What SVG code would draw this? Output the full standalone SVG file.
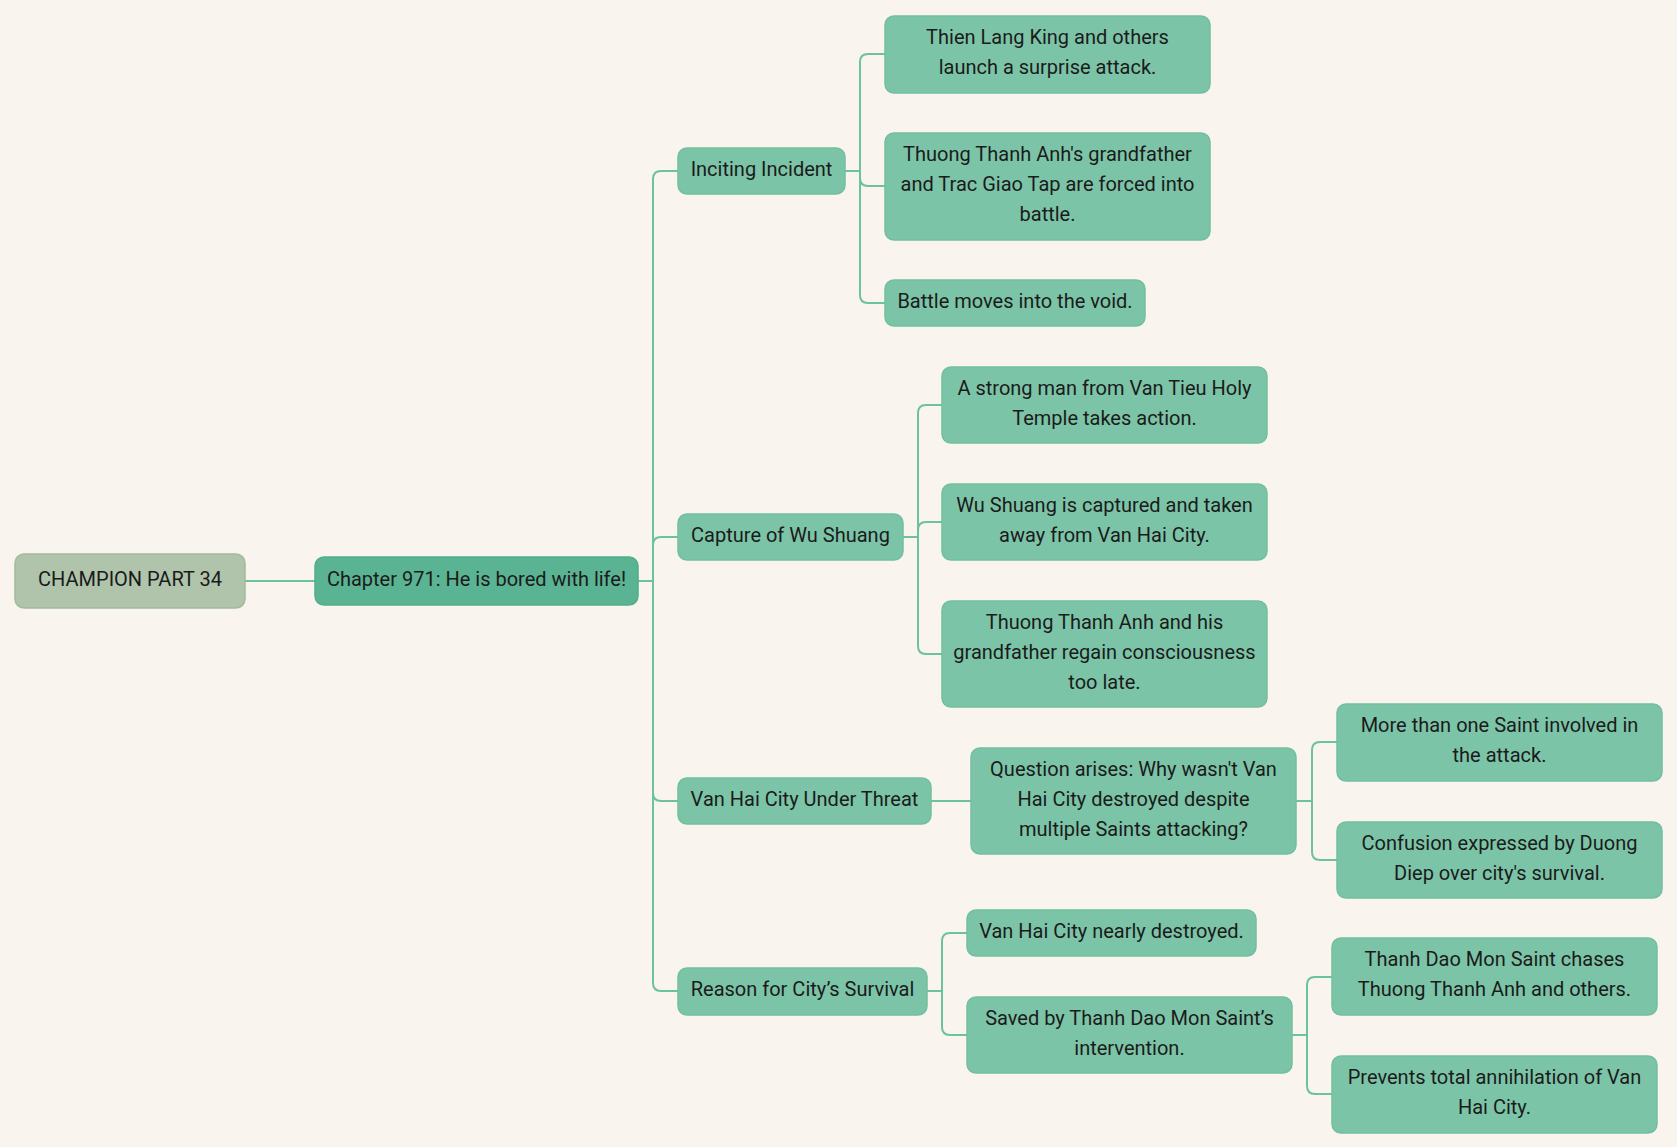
<svg xmlns="http://www.w3.org/2000/svg" width="1677" height="1147" viewBox="0 0 1677 1147">
<style>
.bg{fill:#f9f5ee}
.n rect{fill:#7cc4a8;stroke:#72bf9f;stroke-width:1.5}
.root rect{fill:#afc4aa;stroke:#a3bb9c;stroke-width:1.5}
.ch rect{fill:#5ab393;stroke:#52ad8b;stroke-width:1.5}
text{font-family:Roboto,"Liberation Sans",sans-serif;font-size:20px;fill:#1b1b1b;text-anchor:middle;dominant-baseline:central}
.c path{fill:none;stroke:#6cc19f;stroke-width:2}
</style>
<rect class="bg" x="0" y="0" width="1677" height="1147"/>
<g class="c" id="connectors">
<path d="M245 581H315"/>
<path d="M638 581H653"/>
<path d="M653 581V179Q653 171 661 171H678"/>
<path d="M653 581V545Q653 537 661 537H678"/>
<path d="M653 581V793Q653 801 661 801H678"/>
<path d="M653 581V983Q653 991 661 991H678"/>
<path d="M845 171H860V62Q860 54 868 54H885"/>
<path d="M860 171V178Q860 186 868 186H885"/>
<path d="M860 171V295Q860 303 868 303H885"/>
<path d="M903 537H918V413Q918 405 926 405H942"/>
<path d="M918 537V530Q918 522 926 522H942"/>
<path d="M918 537V646Q918 654 926 654H942"/>
<path d="M931 801H971"/>
<path d="M1296 801H1312V750Q1312 742 1320 742H1337"/>
<path d="M1312 801V852Q1312 860 1320 860H1337"/>
<path d="M927 991H942V941Q942 933 950 933H967"/>
<path d="M942 991V1027Q942 1035 950 1035H967"/>
<path d="M1292 1035H1307V985Q1307 977 1315 977H1332"/>
<path d="M1307 1035V1086Q1307 1094 1315 1094H1332"/>
</g>
<g id="root" class="root"><rect x="15" y="554" width="230" height="54" rx="9"/><text x="130" y="579">CHAMPION PART 34</text></g>
<g id="chapter" class="ch"><rect x="315" y="557" width="323" height="48" rx="9"/><text x="476.5" y="579">Chapter 971: He is bored with life!</text></g>
<g id="inciting" class="n"><rect x="678" y="148" width="167" height="46" rx="9"/><text x="761.5" y="169">Inciting Incident</text></g>
<g id="thien" class="n"><rect x="885" y="16" width="325" height="77" rx="9"/><text x="1047.5" y="37">Thien Lang King and others</text><text x="1047.5" y="67">launch a surprise attack.</text></g>
<g id="thuong1" class="n"><rect x="885" y="133" width="325" height="107" rx="9"/><text x="1047.5" y="154">Thuong Thanh Anh's grandfather</text><text x="1047.5" y="184">and Trac Giao Tap are forced into</text><text x="1047.5" y="214">battle.</text></g>
<g id="battle" class="n"><rect x="885" y="280" width="260" height="46" rx="9"/><text x="1015" y="301">Battle moves into the void.</text></g>
<g id="capture" class="n"><rect x="678" y="514" width="225" height="46" rx="9"/><text x="790.5" y="535">Capture of Wu Shuang</text></g>
<g id="strong" class="n"><rect x="942" y="367" width="325" height="76" rx="9"/><text x="1104.5" y="388">A strong man from Van Tieu Holy</text><text x="1104.5" y="418">Temple takes action.</text></g>
<g id="wu" class="n"><rect x="942" y="484" width="325" height="76" rx="9"/><text x="1104.5" y="505">Wu Shuang is captured and taken</text><text x="1104.5" y="535">away from Van Hai City.</text></g>
<g id="thuong2" class="n"><rect x="942" y="601" width="325" height="106" rx="9"/><text x="1104.5" y="622">Thuong Thanh Anh and his</text><text x="1104.5" y="652">grandfather regain consciousness</text><text x="1104.5" y="682">too late.</text></g>
<g id="vanhai" class="n"><rect x="678" y="778" width="253" height="46" rx="9"/><text x="804.5" y="799">Van Hai City Under Threat</text></g>
<g id="question" class="n"><rect x="971" y="748" width="325" height="106" rx="9"/><text x="1133.5" y="769">Question arises: Why wasn't Van</text><text x="1133.5" y="799">Hai City destroyed despite</text><text x="1133.5" y="829">multiple Saints attacking?</text></g>
<g id="more" class="n"><rect x="1337" y="704" width="325" height="77" rx="9"/><text x="1499.5" y="725">More than one Saint involved in</text><text x="1499.5" y="755">the attack.</text></g>
<g id="confusion" class="n"><rect x="1337" y="822" width="325" height="76" rx="9"/><text x="1499.5" y="843">Confusion expressed by Duong</text><text x="1499.5" y="873">Diep over city's survival.</text></g>
<g id="reason" class="n"><rect x="678" y="968" width="249" height="47" rx="9"/><text x="802.5" y="989">Reason for City’s Survival</text></g>
<g id="nearly" class="n"><rect x="967" y="910" width="289" height="46" rx="9"/><text x="1111.5" y="931">Van Hai City nearly destroyed.</text></g>
<g id="saved" class="n"><rect x="967" y="997" width="325" height="76" rx="9"/><text x="1129.5" y="1018">Saved by Thanh Dao Mon Saint’s</text><text x="1129.5" y="1048">intervention.</text></g>
<g id="chases" class="n"><rect x="1332" y="938" width="325" height="77" rx="9"/><text x="1494.5" y="959">Thanh Dao Mon Saint chases</text><text x="1494.5" y="989">Thuong Thanh Anh and others.</text></g>
<g id="prevents" class="n"><rect x="1332" y="1056" width="325" height="77" rx="9"/><text x="1494.5" y="1077">Prevents total annihilation of Van</text><text x="1494.5" y="1107">Hai City.</text></g>
</svg>
